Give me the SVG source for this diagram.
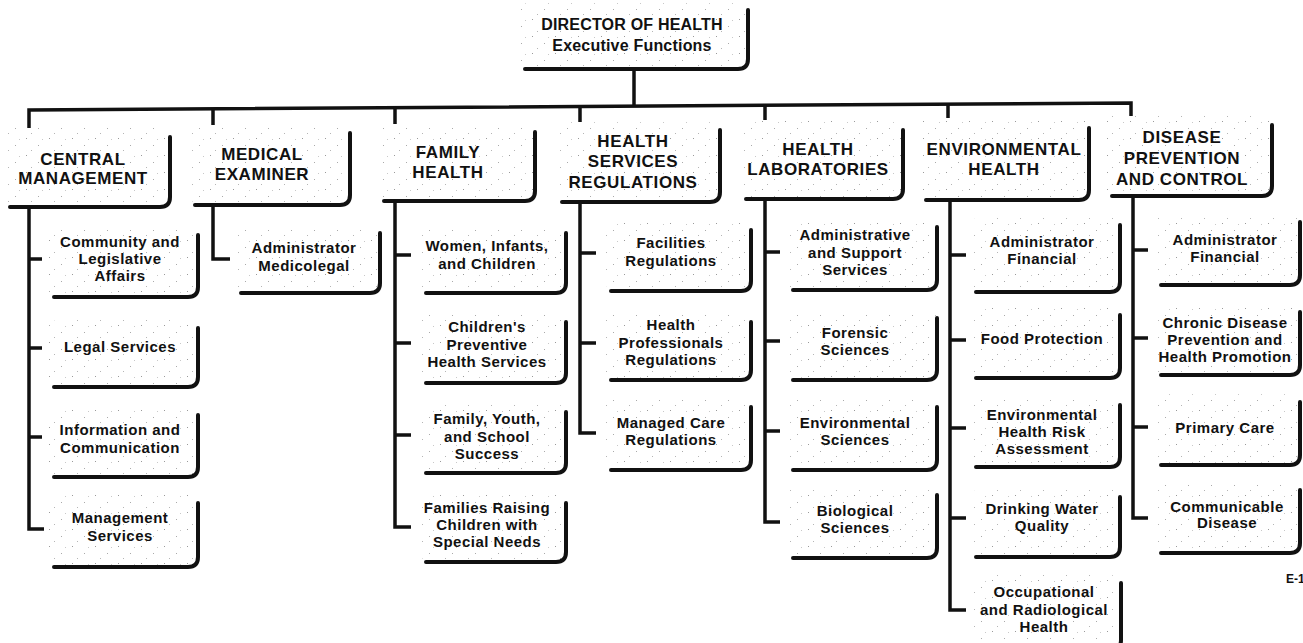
<svg xmlns="http://www.w3.org/2000/svg" width="1303" height="643" viewBox="0 0 1303 643">
<defs>
<pattern id="sp" width="23" height="17" patternUnits="userSpaceOnUse">
<rect width="23" height="17" fill="#fff"/>
<rect x="3" y="2" width="1" height="1" fill="#9a9a9a"/>
<rect x="15" y="9" width="1" height="1" fill="#aaa"/>
<rect x="8" y="14" width="1" height="1" fill="#b5b5b5"/>
<rect x="19" y="3" width="1" height="1" fill="#c8c8c8"/>
</pattern>
<style>
.bg{fill:url(#sp)}
.edge{fill:none;stroke:#111;stroke-width:4;stroke-linecap:round;stroke-linejoin:round}
.conn{fill:none;stroke:#111;stroke-width:3.5;stroke-linejoin:miter}
text{font-family:"Liberation Sans",Arial,sans-serif;font-weight:bold;fill:#111;text-anchor:middle}
.h{font-size:17px;letter-spacing:0.6px}
.t{font-size:15px;letter-spacing:0.5px}
.d{font-size:16px;letter-spacing:0.2px}
</style>
</defs>
<rect width="1303" height="643" fill="#fff"/>

<g id="connectors">
<path class="conn" d="M634,69 V106"/>
<path class="conn" d="M29,130 V110 L1131,103 V117"/>
<path class="conn" d="M213,109 V125 M395,108 V124 M580,106.5 V122 M765,105.3 V120 M948,104.2 V118"/>
<path class="conn" d="M29,207 V529 H44 M29,259 H42 M29,348 H42 M29,437 H42"/>
<path class="conn" d="M213,205 V259 H230"/>
<path class="conn" d="M395,201 V527 H411 M395,255 H411 M395,343 H411 M395,435 H411"/>
<path class="conn" d="M580,202 V433 H596 M580,253 H596 M580,343 H596"/>
<path class="conn" d="M765,199 V522 H780 M765,252 H780 M765,341 H780 M765,431 H780"/>
<path class="conn" d="M950,200 V610 H966 M950,255 H966 M950,340 H966 M950,428 H966 M950,518 H966"/>
<path class="conn" d="M1133,196 V518 H1148 M1133,250 H1148 M1133,338 H1148 M1133,427 H1148"/>
</g>

<g id="director">
<rect class="bg" x="517" y="3" width="231" height="66" rx="10"/>
<path class="edge" d="M525,69 H738 Q748,69 748,59 V10"/>
<text class="d"><tspan x="632" y="30">DIRECTOR OF HEALTH</tspan><tspan x="632" y="51">Executive Functions</tspan></text>
</g>

<g id="central-management">
<rect class="bg" x="4" y="128" width="166" height="79" rx="10"/>
<path class="edge" d="M10,207 H160 Q170,207 170,197 V137"/>
<text class="h"><tspan x="83" y="165">CENTRAL</tspan><tspan x="83" y="184">MANAGEMENT</tspan></text>
</g>
<g id="medical-examiner">
<rect class="bg" x="190" y="126" width="160" height="79" rx="10"/>
<path class="edge" d="M195,205 H340 Q350,205 350,195 V133"/>
<text class="h"><tspan x="262" y="160">MEDICAL</tspan><tspan x="262" y="180">EXAMINER</tspan></text>
</g>
<g id="family-health">
<rect class="bg" x="378" y="124" width="157" height="77" rx="10"/>
<path class="edge" d="M384,201 H525 Q535,201 535,191 V132"/>
<text class="h"><tspan x="448" y="158">FAMILY</tspan><tspan x="448" y="178">HEALTH</tspan></text>
</g>
<g id="health-services-regulations">
<rect class="bg" x="557" y="122" width="163" height="80" rx="10"/>
<path class="edge" d="M562,202 H710 Q720,202 720,192 V130"/>
<text class="h"><tspan x="633" y="147">HEALTH</tspan><tspan x="633" y="167">SERVICES</tspan><tspan x="633" y="188">REGULATIONS</tspan></text>
</g>
<g id="health-laboratories">
<rect class="bg" x="740" y="120" width="163" height="79" rx="10"/>
<path class="edge" d="M746,199 H893 Q903,199 903,189 V130"/>
<text class="h"><tspan x="818" y="155">HEALTH</tspan><tspan x="818" y="175">LABORATORIES</tspan></text>
</g>
<g id="environmental-health">
<rect class="bg" x="918" y="118" width="171" height="82" rx="10"/>
<path class="edge" d="M926,200 H1079 Q1089,200 1089,190 V128"/>
<text class="h"><tspan x="1004" y="155">ENVIRONMENTAL</tspan><tspan x="1004" y="175">HEALTH</tspan></text>
</g>
<g id="disease-prevention">
<rect class="bg" x="1102" y="116" width="170" height="80" rx="10"/>
<path class="edge" d="M1112,196 H1262 Q1272,196 1272,186 V125"/>
<text class="h"><tspan x="1182" y="143">DISEASE</tspan><tspan x="1182" y="164">PREVENTION</tspan><tspan x="1182" y="185">AND CONTROL</tspan></text>
</g>

<g id="cm-community">
<rect class="bg" x="48" y="227" width="150" height="70" rx="10"/>
<path class="edge" d="M54,297 H188 Q198,297 198,287 V235"/>
<text class="t"><tspan x="120" y="247">Community and</tspan><tspan x="120" y="264">Legislative</tspan><tspan x="120" y="281">Affairs</tspan></text>
</g>
<g id="cm-legal">
<rect class="bg" x="48" y="320" width="150" height="67" rx="10"/>
<path class="edge" d="M54,387 H188 Q198,387 198,377 V328"/>
<text class="t"><tspan x="120" y="352">Legal Services</tspan></text>
</g>
<g id="cm-information">
<rect class="bg" x="48" y="407" width="150" height="70" rx="10"/>
<path class="edge" d="M54,477 H188 Q198,477 198,467 V415"/>
<text class="t"><tspan x="120" y="435">Information and</tspan><tspan x="120" y="453">Communication</tspan></text>
</g>
<g id="cm-management">
<rect class="bg" x="48" y="495" width="150" height="72" rx="10"/>
<path class="edge" d="M54,567 H188 Q198,567 198,557 V503"/>
<text class="t"><tspan x="120" y="523">Management</tspan><tspan x="120" y="541">Services</tspan></text>
</g>

<g id="me-administrator">
<rect class="bg" x="235" y="225" width="145" height="68" rx="10"/>
<path class="edge" d="M241,293 H370 Q380,293 380,283 V233"/>
<text class="t"><tspan x="304" y="253">Administrator</tspan><tspan x="304" y="271">Medicolegal</tspan></text>
</g>

<g id="fh-wic">
<rect class="bg" x="420" y="225" width="146" height="68" rx="10"/>
<path class="edge" d="M426,293 H556 Q566,293 566,283 V233"/>
<text class="t"><tspan x="487" y="251">Women, Infants,</tspan><tspan x="487" y="269">and Children</tspan></text>
</g>
<g id="fh-childrens">
<rect class="bg" x="420" y="314" width="146" height="69" rx="10"/>
<path class="edge" d="M426,383 H556 Q566,383 566,373 V322"/>
<text class="t"><tspan x="487" y="332">Children's</tspan><tspan x="487" y="350">Preventive</tspan><tspan x="487" y="367">Health Services</tspan></text>
</g>
<g id="fh-family-youth">
<rect class="bg" x="420" y="404" width="146" height="69" rx="10"/>
<path class="edge" d="M426,473 H556 Q566,473 566,463 V412"/>
<text class="t"><tspan x="487" y="424">Family, Youth,</tspan><tspan x="487" y="442">and School</tspan><tspan x="487" y="459">Success</tspan></text>
</g>
<g id="fh-special-needs">
<rect class="bg" x="420" y="495" width="146" height="67" rx="10"/>
<path class="edge" d="M426,562 H556 Q566,562 566,552 V503"/>
<text class="t"><tspan x="487" y="513">Families Raising</tspan><tspan x="487" y="530">Children with</tspan><tspan x="487" y="547">Special Needs</tspan></text>
</g>

<g id="hs-facilities">
<rect class="bg" x="605" y="222" width="146" height="69" rx="10"/>
<path class="edge" d="M611,291 H741 Q751,291 751,281 V230"/>
<text class="t"><tspan x="671" y="248">Facilities</tspan><tspan x="671" y="266">Regulations</tspan></text>
</g>
<g id="hs-professionals">
<rect class="bg" x="605" y="314" width="146" height="66" rx="10"/>
<path class="edge" d="M611,380 H741 Q751,380 751,370 V322"/>
<text class="t"><tspan x="671" y="330">Health</tspan><tspan x="671" y="348">Professionals</tspan><tspan x="671" y="365">Regulations</tspan></text>
</g>
<g id="hs-managed-care">
<rect class="bg" x="605" y="399" width="146" height="71" rx="10"/>
<path class="edge" d="M611,470 H741 Q751,470 751,460 V407"/>
<text class="t"><tspan x="671" y="428">Managed Care</tspan><tspan x="671" y="445">Regulations</tspan></text>
</g>

<g id="hl-administrative">
<rect class="bg" x="787" y="219" width="150" height="71" rx="10"/>
<path class="edge" d="M793,290 H927 Q937,290 937,280 V227"/>
<text class="t"><tspan x="855" y="240">Administrative</tspan><tspan x="855" y="258">and Support</tspan><tspan x="855" y="275">Services</tspan></text>
</g>
<g id="hl-forensic">
<rect class="bg" x="787" y="310" width="150" height="70" rx="10"/>
<path class="edge" d="M793,380 H927 Q937,380 937,370 V318"/>
<text class="t"><tspan x="855" y="338">Forensic</tspan><tspan x="855" y="355">Sciences</tspan></text>
</g>
<g id="hl-environmental">
<rect class="bg" x="787" y="399" width="150" height="71" rx="10"/>
<path class="edge" d="M793,470 H927 Q937,470 937,460 V407"/>
<text class="t"><tspan x="855" y="428">Environmental</tspan><tspan x="855" y="445">Sciences</tspan></text>
</g>
<g id="hl-biological">
<rect class="bg" x="787" y="487" width="150" height="71" rx="10"/>
<path class="edge" d="M793,558 H927 Q937,558 937,548 V495"/>
<text class="t"><tspan x="855" y="516">Biological</tspan><tspan x="855" y="533">Sciences</tspan></text>
</g>

<g id="eh-administrator">
<rect class="bg" x="970" y="217" width="150" height="75" rx="10"/>
<path class="edge" d="M976,292 H1110 Q1120,292 1120,282 V225"/>
<text class="t"><tspan x="1042" y="247">Administrator</tspan><tspan x="1042" y="264">Financial</tspan></text>
</g>
<g id="eh-food">
<rect class="bg" x="970" y="307" width="150" height="71" rx="10"/>
<path class="edge" d="M976,378 H1110 Q1120,378 1120,368 V315"/>
<text class="t"><tspan x="1042" y="344">Food Protection</tspan></text>
</g>
<g id="eh-risk">
<rect class="bg" x="970" y="397" width="150" height="70" rx="10"/>
<path class="edge" d="M976,467 H1110 Q1120,467 1120,457 V405"/>
<text class="t"><tspan x="1042" y="420">Environmental</tspan><tspan x="1042" y="437">Health Risk</tspan><tspan x="1042" y="454">Assessment</tspan></text>
</g>
<g id="eh-drinking-water">
<rect class="bg" x="970" y="489" width="150" height="68" rx="10"/>
<path class="edge" d="M976,557 H1110 Q1120,557 1120,547 V497"/>
<text class="t"><tspan x="1042" y="514">Drinking Water</tspan><tspan x="1042" y="531">Quality</tspan></text>
</g>
<g id="eh-occupational">
<rect class="bg" x="970" y="575" width="151" height="75" rx="10"/>
<path class="edge" d="M976,650 H1111 Q1121,650 1121,640 V583"/>
<text class="t"><tspan x="1044" y="597">Occupational</tspan><tspan x="1044" y="615">and Radiological</tspan><tspan x="1044" y="632">Health</tspan></text>
</g>

<g id="dp-administrator">
<rect class="bg" x="1155" y="214" width="145" height="71" rx="10"/>
<path class="edge" d="M1161,285 H1290 Q1300,285 1300,275 V222"/>
<text class="t"><tspan x="1225" y="245">Administrator</tspan><tspan x="1225" y="262">Financial</tspan></text>
</g>
<g id="dp-chronic">
<rect class="bg" x="1155" y="304" width="145" height="71" rx="10"/>
<path class="edge" d="M1161,375 H1290 Q1300,375 1300,365 V312"/>
<text class="t"><tspan x="1225" y="328">Chronic Disease</tspan><tspan x="1225" y="345">Prevention and</tspan><tspan x="1225" y="362">Health Promotion</tspan></text>
</g>
<g id="dp-primary">
<rect class="bg" x="1155" y="394" width="145" height="71" rx="10"/>
<path class="edge" d="M1161,465 H1290 Q1300,465 1300,455 V402"/>
<text class="t"><tspan x="1225" y="433">Primary Care</tspan></text>
</g>
<g id="dp-communicable">
<rect class="bg" x="1155" y="482" width="145" height="71" rx="10"/>
<path class="edge" d="M1161,553 H1290 Q1300,553 1300,543 V490"/>
<text class="t"><tspan x="1227" y="512">Communicable</tspan><tspan x="1227" y="528">Disease</tspan></text>
</g>

<text x="1286" y="583" style="font-size:12px;text-anchor:start">E-1</text>
</svg>
